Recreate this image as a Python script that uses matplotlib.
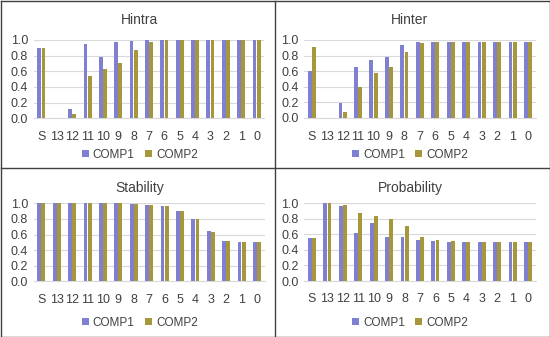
import matplotlib
matplotlib.use('Agg')
from matplotlib import pyplot as plt
from matplotlib.lines import Line2D
import numpy as np

plt.rcParams['font.family'] = ['Liberation Sans', 'DejaVu Sans']

# x轴类别
cats = ['S', '13', '12', '11', '10', '9', '8', '7', '6', '5', '4', '3', '2', '1', '0']

# 各子图数据
hintra_c1 = [0.90, 0, 0.12, 0.95, 0.78, 0.98, 0.99, 1.0, 1.0, 1.0, 1.0, 1.0, 1.0, 1.0, 1.0]
hintra_c2 = [0.90, 0, 0.06, 0.54, 0.63, 0.71, 0.87, 0.98, 1.0, 1.0, 1.0, 1.0, 1.0, 1.0, 1.0]

hinter_c1 = [0.60, 0, 0.19, 0.65, 0.74, 0.78, 0.94, 0.98, 0.98, 0.98, 0.98, 0.98, 0.98, 0.98, 0.98]
hinter_c2 = [0.91, 0, 0.08, 0.40, 0.58, 0.65, 0.84, 0.96, 0.98, 0.98, 0.98, 0.98, 0.98, 0.98, 0.98]

stab_c1 = [1.0, 1.0, 1.0, 1.0, 1.0, 1.0, 0.99, 0.98, 0.96, 0.90, 0.80, 0.64, 0.52, 0.51, 0.51]
stab_c2 = [1.0, 1.0, 1.0, 1.0, 1.0, 1.0, 0.99, 0.98, 0.96, 0.90, 0.80, 0.63, 0.52, 0.51, 0.51]

prob_c1 = [0.55, 1.0, 0.96, 0.61, 0.75, 0.57, 0.56, 0.52, 0.51, 0.50, 0.50, 0.50, 0.50, 0.50, 0.50]
prob_c2 = [0.55, 1.0, 0.98, 0.87, 0.83, 0.80, 0.70, 0.57, 0.53, 0.51, 0.50, 0.50, 0.50, 0.50, 0.50]

c1_color = '#7F80D2'
c2_color = '#A6963C'

W, H = 550, 337
fig = plt.figure(figsize=(5.5, 3.37), dpi=100)


def px_axes(x0, x1, ytop, ybot):
    return fig.add_axes([x0 / W, 1 - ybot / H, (x1 - x0) / W, (ybot - ytop) / H])


# (标题, 数据1, 数据2, 左, 右, 1.0位置, 0.0位置, 面板中心x, 面板顶部y)
panels = [
    ('Hintra', hintra_c1, hintra_c2, 33.8, 264.2, 40, 118.3, 140, 0),
    ('Hinter', hinter_c1, hinter_c2, 304, 535.7, 40, 118, 410, 0),
    ('Stability', stab_c1, stab_c2, 33.6, 264.7, 203.3, 281.3, 140, 168),
    ('Probability', prob_c1, prob_c2, 304.3, 535.7, 203, 281, 410, 168),
]

x = np.arange(len(cats))
bw = 0.25
for title, d1, d2, x0, x1, ytop, ybot, cx, py in panels:
    ax = px_axes(x0, x1, ytop, ybot)
    ax.bar(x - bw / 2 - 0.01, d1, width=bw, color=c1_color, label='COMP1', zorder=3)
    ax.bar(x + bw / 2 + 0.01, d2, width=bw, color=c2_color, label='COMP2', zorder=3)
    ax.set_xlim(-0.5, len(cats) - 0.5)
    ax.set_ylim(0, 1.0)
    ax.set_yticks(np.arange(0, 1.01, 0.2))
    ax.set_yticklabels(['%.1f' % v for v in np.arange(0, 1.01, 0.2)], fontsize=9, color='#404040')
    ax.set_xticks(x)
    ax.set_xticklabels(cats, fontsize=9, color='#404040')
    ax.tick_params(length=0, pad=9)
    ax.tick_params(axis='y', pad=4)
    ax.grid(axis='y', color='#D9D9D9', linewidth=0.8, zorder=0)
    for s in ['top', 'right', 'left']:
        ax.spines[s].set_visible(False)
    ax.spines['bottom'].set_color('#D9D9D9')
    fig.text(cx / W, 1 - (py + 20) / H, title, ha='center', va='center', fontsize=10, color='#404040')
    ax.legend(loc='center', bbox_to_anchor=(cx / W, 1 - (py + 154.5) / H), bbox_transform=fig.transFigure,
              ncol=2, frameon=False, fontsize=8.5, handlelength=0.6, handleheight=0.6,
              handletextpad=0.3, columnspacing=0.9, labelcolor='#404040')

# 面板边框
bc = '#404040'
for xs, ys in [([0.5, 549.5], [0.5, 0.5]), ([0.5, 549.5], [336.5, 336.5]),
               ([0.5, 0.5], [0.5, 336.5]), ([549.5, 549.5], [0.5, 336.5]),
               ([275, 275], [0.5, 336.5]), ([0.5, 549.5], [168, 168])]:
    fig.add_artist(Line2D([v / W for v in xs], [1 - v / H for v in ys], color=bc, linewidth=1))

fig.savefig('out.png', dpi=100)
